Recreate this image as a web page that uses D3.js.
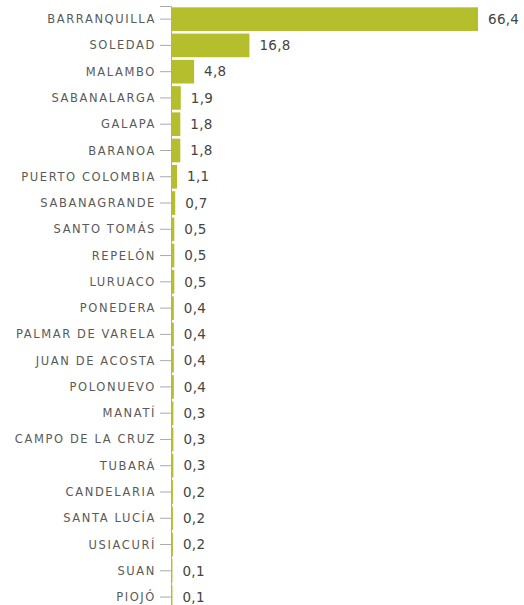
<!DOCTYPE html>
<html>
<head>
<meta charset="utf-8">
<script src="https://cdn.jsdelivr.net/npm/d3@7"></script>
<style>
  body { margin: 0; background: #fff; }
  svg { display: block; }
  .y-axis text { font-family: "DejaVu Sans", sans-serif; font-size: 11.5px; letter-spacing: 1.6px; fill: #5a5a5a; }
  .y-axis line, .y-axis path { stroke: #aaa; }
  .value { font-family: "DejaVu Sans", sans-serif; font-size: 13.5px; letter-spacing: 0.3px; fill: #444; }
</style>
</head>
<body>
<div id="chart"></div>
<script>
// municipios y valores (%)
const municipios = ["BARRANQUILLA", "SOLEDAD", "MALAMBO", "SABANALARGA", "GALAPA", "BARANOA",
  "PUERTO COLOMBIA", "SABANAGRANDE", "SANTO TOMÁS", "REPELÓN", "LURUACO", "PONEDERA",
  "PALMAR DE VARELA", "JUAN DE ACOSTA", "POLONUEVO", "MANATÍ", "CAMPO DE LA CRUZ", "TUBARÁ",
  "CANDELARIA", "SANTA LUCÍA", "USIACURÍ", "SUAN", "PIOJÓ"];
const valores = [66.4, 16.8, 4.8, 1.9, 1.8, 1.8, 1.1, 0.7, 0.5, 0.5, 0.5, 0.4, 0.4, 0.4, 0.4,
  0.3, 0.3, 0.3, 0.2, 0.2, 0.2, 0.1, 0.1];

const width = 524, height = 605;
const margin = {top: 6, right: 46, bottom: 0, left: 171};

const dat = municipios.map((m, i) => ({key: m, value: valores[i]}));

const svg = d3.select("#chart").append("svg")
  .attr("width", width)
  .attr("height", height);

const x = d3.scaleLinear()
  .domain([0, 66.4])
  .range([margin.left + 1, 478]);

const y = d3.scaleBand()
  .domain(municipios)
  .range([margin.top, margin.top + 26.27 * municipios.length])
  .paddingInner(0.1)
  .paddingOuter(0.05);

// bars
svg.selectAll("rect.bar")
  .data(dat)
  .enter().append("rect")
    .attr("class", "bar")
    .attr("x", x(0))
    .attr("y", d => y(d.key))
    .attr("width", d => x(d.value) - x(0))
    .attr("height", y.bandwidth())
    .attr("fill", "#b5be2d");

// axis
svg.append("g")
  .attr("class", "y-axis")
  .attr("transform", `translate(${margin.left},0)`)
  .call(d3.axisLeft(y).tickSize(11).tickPadding(4).tickSizeOuter(11))
  .call(g => g.selectAll("text").attr("dy", "0.35em"));

// value labels
svg.selectAll("text.value")
  .data(dat)
  .enter().append("text")
    .attr("class", "value")
    .attr("x", d => x(d.value) + 10)
    .attr("y", d => y(d.key) + y.bandwidth() / 2)
    .attr("dy", "0.35em")
    .text(d => d3.format(".1f")(d.value).replace(".", ","));
</script>
</body>
</html>
